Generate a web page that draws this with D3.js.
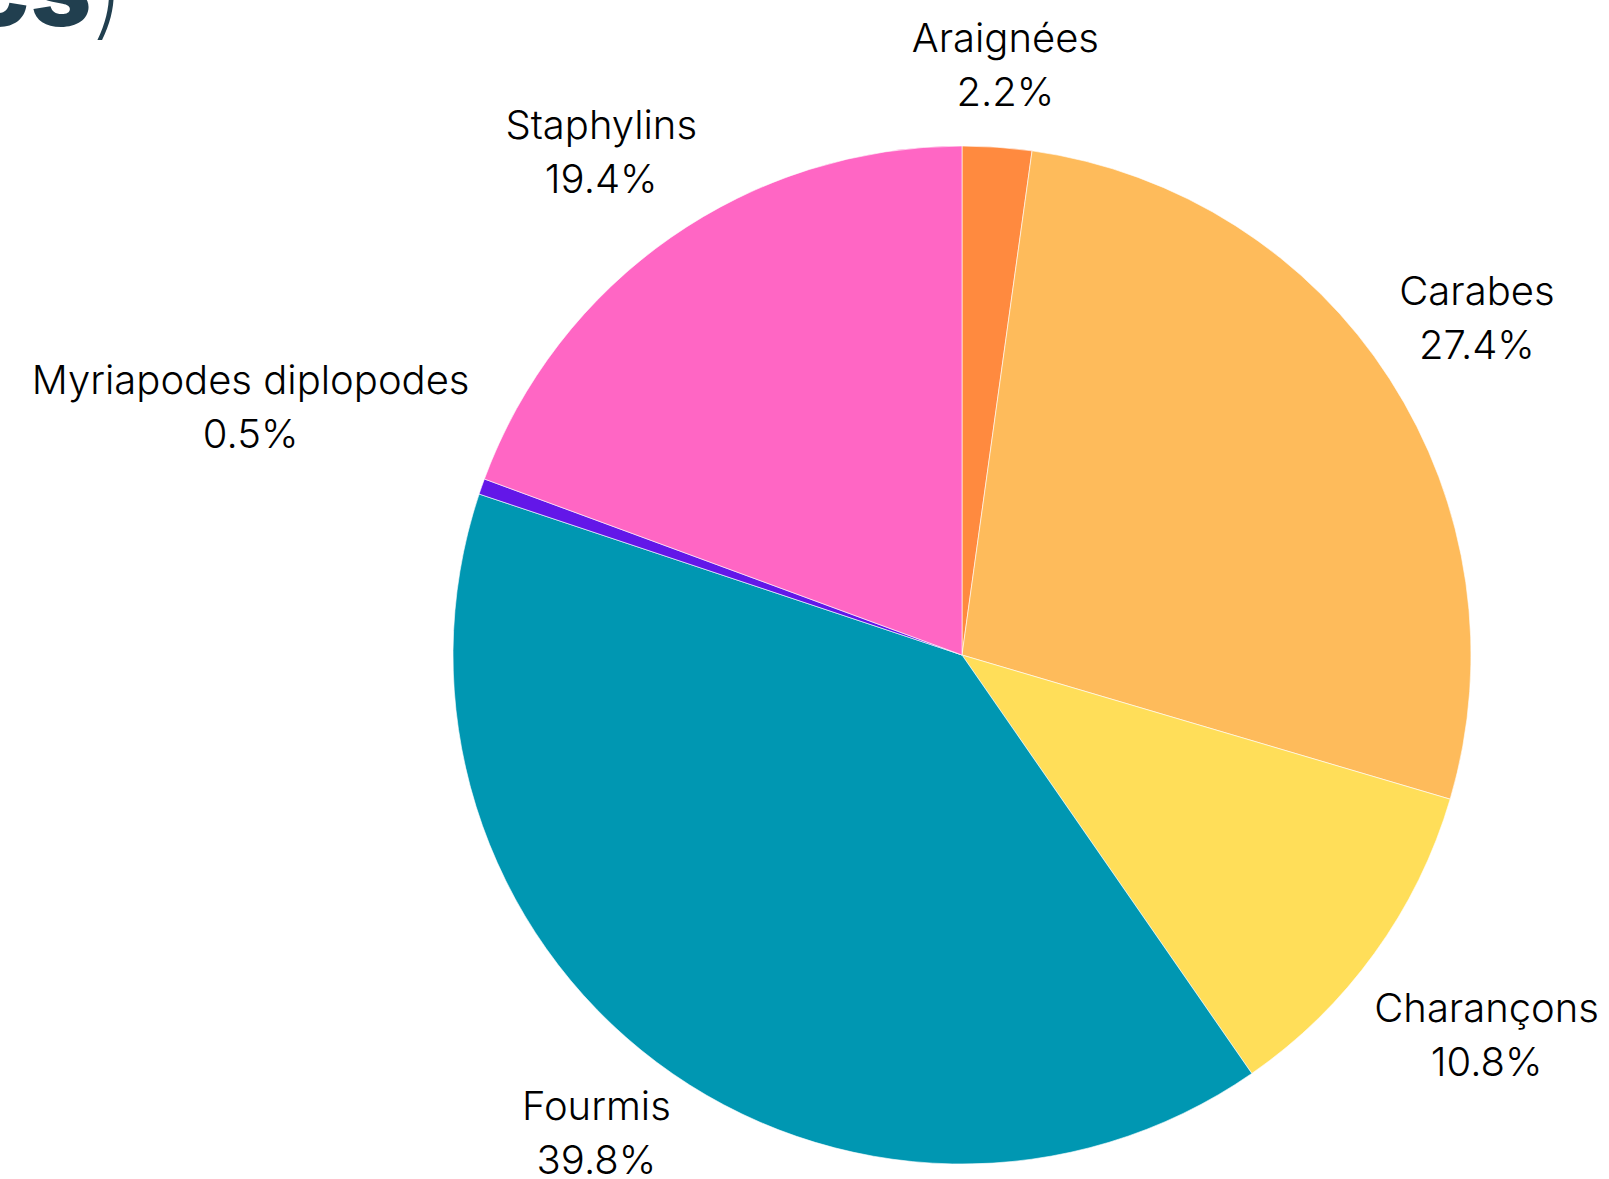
<!DOCTYPE html>
<html>
<head>
<meta charset="utf-8">
<script src="https://cdn.jsdelivr.net/npm/d3@7"></script>
<style>
  body { margin: 0; background: #fff; }
  .labels { font-family: Inter, "Noto Sans", sans-serif; font-size: 40px; font-weight: 300; fill: #000; }
</style>
</head>
<body>
<script>
// Data
var categories = ["Araignées", "Carabes", "Charançons", "Fourmis", "Myriapodes diplopodes", "Staphylins"];
var shares = [2.2, 27.4, 10.8, 39.8, 0.5, 19.4];
var shareLabels = ["2.2%", "27.4%", "10.8%", "39.8%", "0.5%", "19.4%"];
var colors = ["#FF8A3F", "#FEBB5B", "#FFDE59", "#0097B2", "#6317E8", "#FF66C4"];

window.onload = function() {
  createPie();
};

function createPie() {
  var width = 1609;
  var height = 1179;
  var cx = 962;
  var cy = 655;
  var radius = 509;
  var labelRadius = 535;

  var svg = d3.select("body")
              .append("svg")
              .attr("width", width)
              .attr("height", height);

  // Title remainder, cut off at the top left
  svg.append("text")
     .attr("x", 92)
     .attr("y", 26)
     .attr("text-anchor", "end")
     .attr("fill", "#213F4F")
     .style("font-family", "Inter, sans-serif")
     .style("font-size", "108px")
     .style("font-weight", 800)
     .text("cs");
  svg.append("text")
     .attr("x", 91)
     .attr("y", 26)
     .attr("fill", "#213F4F")
     .style("font-family", "Inter, sans-serif")
     .style("font-size", "104px")
     .style("font-weight", 200)
     .text(")");

  var pie = d3.pie().sort(null).value(function(d) { return d; });
  var arcs = pie(shares);
  var arc = d3.arc().innerRadius(0).outerRadius(radius);

  var g = svg.append("g")
             .attr("transform", "translate(" + cx + "," + cy + ")");

  g.selectAll("path")
   .data(arcs)
   .enter()
   .append("path")
   .attr("d", arc)
   .attr("fill", function(d, i) { return colors[i]; })
   .attr("stroke", "rgba(255,255,255,0.6)")
   .attr("stroke-width", 1);

  // Labels: name + percentage, pushed outward from the slice middle
  var labels = g.selectAll("g.lab")
                .data(arcs)
                .enter()
                .append("g")
                .attr("class", "lab");

  labels.each(function(d, i) {
    var lab = d3.select(this);
    var t1 = lab.append("text").attr("class", "labels").attr("text-anchor", "middle")
                .attr("y", -13).text(categories[i]);
    var t2 = lab.append("text").attr("class", "labels").attr("text-anchor", "middle")
                .attr("y", 41).text(shareLabels[i]);
    var w = Math.max(t1.node().getComputedTextLength(), t2.node().getComputedTextLength());
    var a = (d.startAngle + d.endAngle) / 2;
    var x = (labelRadius + w / 2) * Math.sin(a);
    var y = -labelRadius * Math.cos(a) - (Math.cos(a) > 0 ? 1 : -1) * 57 + x * 0.019;
    lab.attr("transform", "translate(" + x + "," + y + ")");
  });
}
</script>
</body>
</html>
